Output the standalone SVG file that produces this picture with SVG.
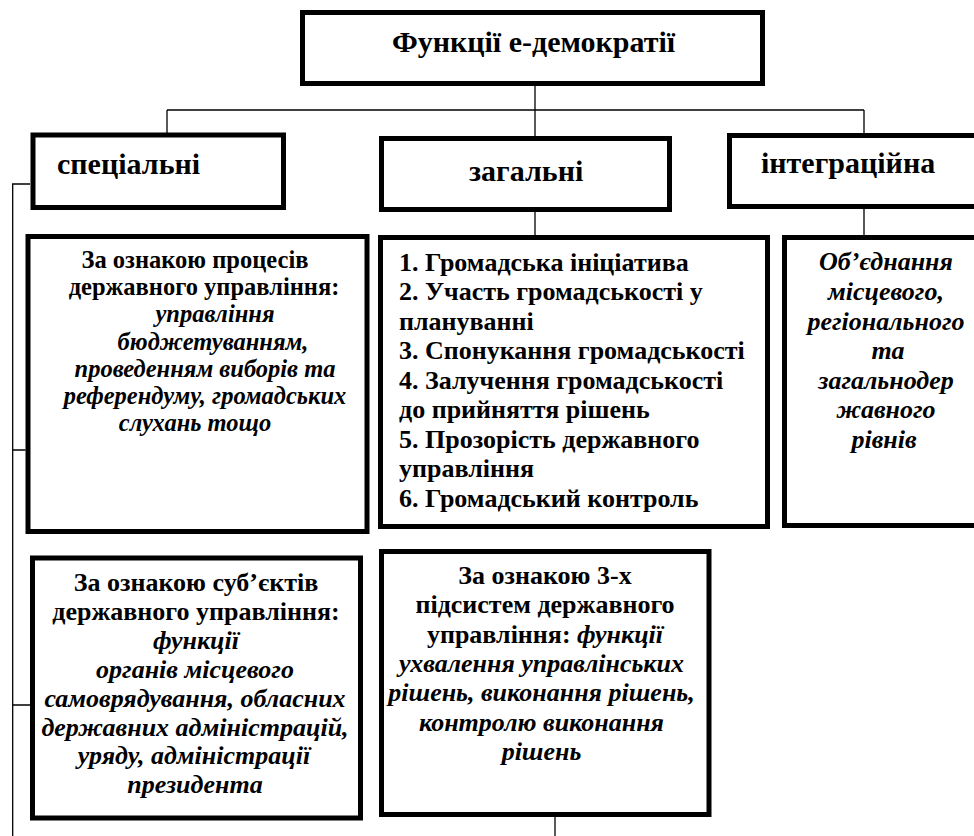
<svg xmlns="http://www.w3.org/2000/svg" width="974" height="836" viewBox="0 0 974 836" font-family="'Liberation Serif', 'DejaVu Serif', serif">
<style>
.box{fill:#fff;stroke:#000;stroke-width:5}
.ln{fill:none;stroke:#000;stroke-width:1.3}
text{font-family:'Liberation Serif','DejaVu Serif',serif;font-weight:bold;fill:#000}
.h{font-size:30px}
.b{font-size:26px}
.s{font-size:24.5px}
.i{font-style:italic}
.m{text-anchor:middle}
</style>
<rect width="974" height="836" fill="#fff"/>
<g id="connectors">
<path class="ln" d="M535 86V110M167 110H864M167 110V133M535 110V136M864 110V133"/>
<path class="ln" d="M535 212V235M864 209V235"/>
<path class="ln" d="M30 184H12.7V836M12.7 450H25.5M12.7 705H30"/>
<path class="ln" d="M555 817V836"/>
</g>
<g id="root">
<rect class="box" x="302.5" y="12.5" width="460" height="71"/>
<text class="h m" x="533.5" y="52">Функції е-демократії</text>
</g>
<g id="special">
<rect class="box" x="33" y="135" width="250.5" height="72.5"/>
<text class="h" x="57" y="174">спеціальні</text>
</g>
<g id="general">
<rect class="box" x="381.5" y="138.5" width="288" height="71"/>
<text class="h" x="469" y="181">загальні</text>
</g>
<g id="integr">
<rect class="box" x="729.5" y="135.5" width="260" height="71"/>
<text class="h" x="761" y="173">інтеграційна</text>
</g>
<g id="proc">
<rect class="box" x="28" y="236.5" width="339" height="295"/>
<text class="s m" x="195" y="268">За ознакою процесів</text>
<text class="s m" x="204" y="295.2">державного управління:</text>
<text class="s m i" x="215" y="322.4">управління</text>
<text class="s m i" x="213" y="349.6">бюджетуванням,</text>
<text class="s m i" x="205" y="376.8">проведенням виборів та</text>
<text class="s m i" x="205" y="404">референдуму, громадських</text>
<text class="s m i" x="195" y="431.2">слухань тощо</text>
</g>
<g id="list">
<rect class="box" x="380.5" y="237.5" width="387" height="289"/>
<text class="b" x="399" y="270.7">1. Громадська ініціатива</text>
<text class="b" x="399" y="300.2">2. Участь громадськості у</text>
<text class="b" x="399" y="329.7">плануванні</text>
<text class="b" x="399" y="359.2">3. Спонукання громадськості</text>
<text class="b" x="399" y="388.7">4. Залучення громадськості</text>
<text class="b" x="399" y="418.2">до прийняття рішень</text>
<text class="b" x="399" y="447.7">5. Прозорість державного</text>
<text class="b" x="399" y="477.2">управління</text>
<text class="b" x="399" y="506.7">6. Громадський контроль</text>
</g>
<g id="unite">
<rect class="box" x="784.5" y="237.5" width="205" height="288"/>
<text class="b m i" x="886" y="270">Об’єднання</text>
<text class="b m i" x="886" y="300">місцевого,</text>
<text class="b m i" x="886" y="330">регіонального</text>
<text class="b m i" x="888" y="359">та</text>
<text class="b m i" x="886" y="389">загальнодер</text>
<text class="b m i" x="886" y="418">жавного</text>
<text class="b m i" x="884" y="448">рівнів</text>
</g>
<g id="subj">
<rect class="box" x="32.5" y="558" width="328" height="260"/>
<text class="b m" x="196" y="591">За ознакою суб’єктів</text>
<text class="b m" x="196" y="619.9">державного управління:</text>
<text class="b m i" x="196" y="648.8">функції</text>
<text class="b m i" x="195" y="677.7">органів місцевого</text>
<text class="b m i" x="195" y="706.6">самоврядування, обласних</text>
<text class="b m i" x="195" y="735.5">державних адміністрацій,</text>
<text class="b m i" x="194" y="764.4">уряду, адміністрації</text>
<text class="b m i" x="195" y="793.3">президента</text>
</g>
<g id="sub3">
<rect class="box" x="381.5" y="551.5" width="327.5" height="263"/>
<text class="b m" x="545" y="584">За ознакою 3-х</text>
<text class="b m" x="545" y="613.3">підсистем державного</text>
<text class="b m" x="545" y="642.6">управління: <tspan class="i">функції</tspan></text>
<text class="b m i" x="541.5" y="671.9">ухвалення управлінських</text>
<text class="b m i" x="541.5" y="701.2">рішень, виконання рішень,</text>
<text class="b m i" x="541.5" y="730.5">контролю виконання</text>
<text class="b m i" x="541.5" y="759.8">рішень</text>
</g>
</svg>
